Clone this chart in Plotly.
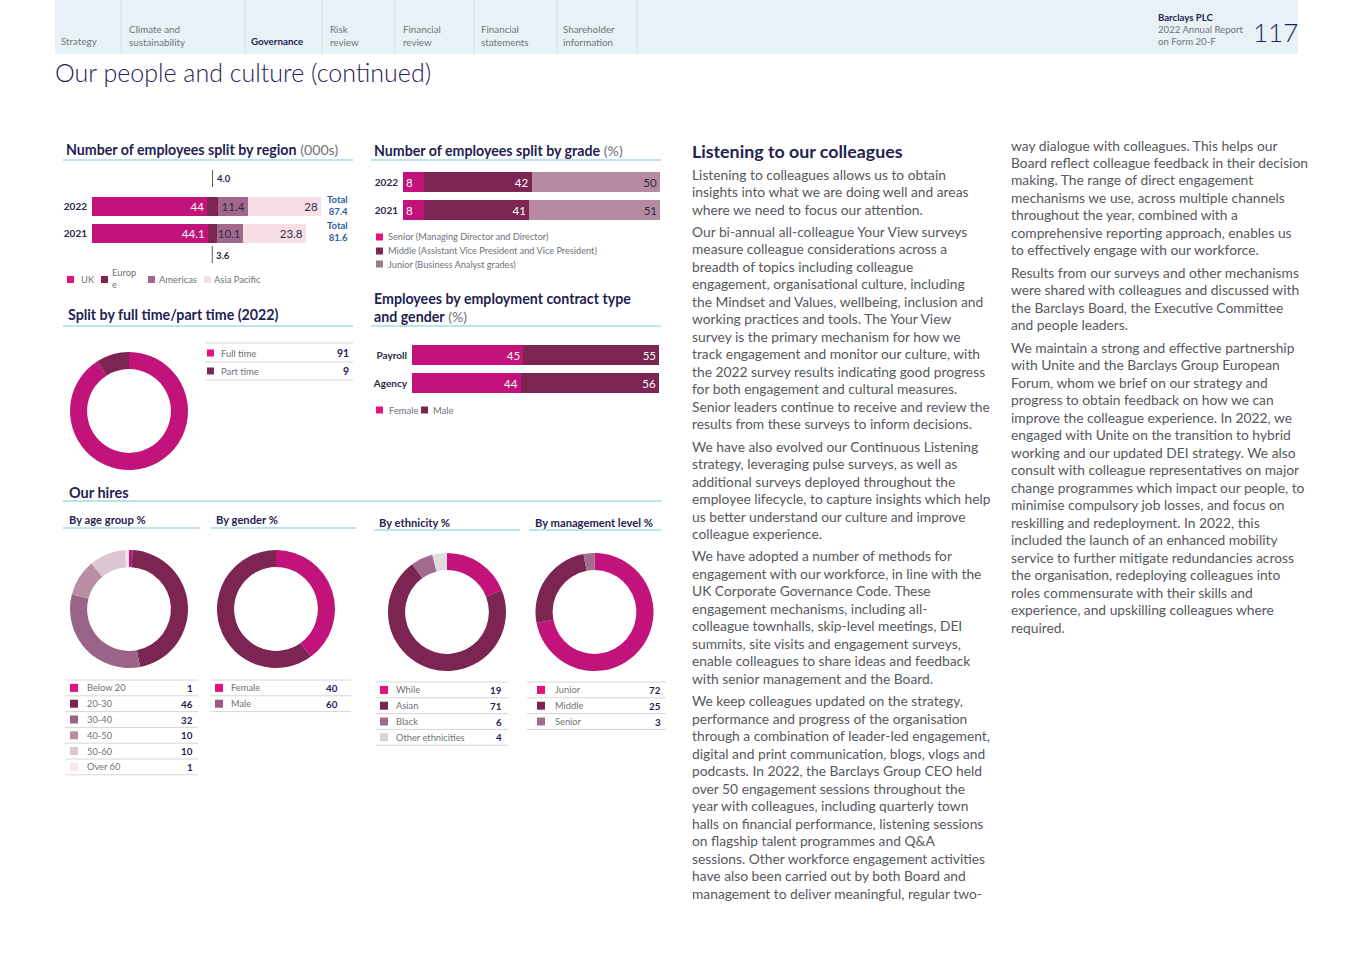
import plotly.graph_objects as go

# full page size; body margin is removed via post_script so the figure sits at (0, 0)
W, H = 1365, 968
OFF = 0

# ---------------- DATA ----------------
region_years = ["2022", "2021"]
region_uk = [44, 44.1]
region_europe = [4.0, 3.6]
region_americas = [11.4, 10.1]
region_apac = [28, 23.8]
region_totals = [87.4, 81.6]

grade_years = ["2022", "2021"]
grade_senior = [8, 8]
grade_middle = [42, 41]
grade_junior = [50, 51]

contract_types = ["Payroll", "Agency"]
contract_female = [45, 44]
contract_male = [55, 56]

ft_labels = ["Full time", "Part time"]
ft_values = [91, 9]

age_labels = ["Below 20", "20-30", "30-40", "40-50", "50-60", "Over 60"]
age_values = [1, 46, 32, 10, 10, 1]

gender_labels = ["Female", "Male"]
gender_values = [40, 60]

eth_labels = ["While", "Asian", "Black", "Other ethnicities"]
eth_values = [19, 71, 6, 4]

mgmt_labels = ["Junior", "Middle", "Senior"]
mgmt_values = [72, 25, 3]

nav_items = ["Strategy", "Climate and<br>sustainability", "<b>Governance</b>", "Risk<br>review",
             "Financial<br>review", "Financial<br>statements", "Shareholder<br>information"]

col1_paras = [
    ["Listening to colleagues allows us to obtain",
     "insights into what we are doing well and areas",
     "where we need to focus our attention."],
    ["Our bi-annual all-colleague Your View surveys",
     "measure colleague considerations across a",
     "breadth of topics including colleague",
     "engagement, organisational culture, including",
     "the Mindset and Values, wellbeing, inclusion and",
     "working practices and tools. The Your View",
     "survey is the primary mechanism for how we",
     "track engagement and monitor our culture, with",
     "the 2022 survey results indicating good progress",
     "for both engagement and cultural measures.",
     "Senior leaders continue to receive and review the",
     "results from these surveys to inform decisions."],
    ["We have also evolved our Continuous Listening",
     "strategy, leveraging pulse surveys, as well as",
     "additional surveys deployed throughout the",
     "employee lifecycle, to capture insights which help",
     "us better understand our culture and improve",
     "colleague experience."],
    ["We have adopted a number of methods for",
     "engagement with our workforce, in line with the",
     "UK Corporate Governance Code. These",
     "engagement mechanisms, including all-",
     "colleague townhalls, skip-level meetings, DEI",
     "summits, site visits and engagement surveys,",
     "enable colleagues to share ideas and feedback",
     "with senior management and the Board."],
    ["We keep colleagues updated on the strategy,",
     "performance and progress of the organisation",
     "through a combination of leader-led engagement,",
     "digital and print communication, blogs, vlogs and",
     "podcasts. In 2022, the Barclays Group CEO held",
     "over 50 engagement sessions throughout the",
     "year with colleagues, including quarterly town",
     "halls on financial performance, listening sessions",
     "on flagship talent programmes and Q&A",
     "sessions. Other workforce engagement activities",
     "have also been carried out by both Board and",
     "management to deliver meaningful, regular two-"],
]
col2_paras = [
    ["way dialogue with colleagues. This helps our",
     "Board reflect colleague feedback in their decision",
     "making. The range of direct engagement",
     "mechanisms we use, across multiple channels",
     "throughout the year, combined with a",
     "comprehensive reporting approach, enables us",
     "to effectively engage with our workforce."],
    ["Results from our surveys and other mechanisms",
     "were shared with colleagues and discussed with",
     "the Barclays Board, the Executive Committee",
     "and people leaders."],
    ["We maintain a strong and effective partnership",
     "with Unite and the Barclays Group European",
     "Forum, whom we brief on our strategy and",
     "progress to obtain feedback on how we can",
     "improve the colleague experience. In 2022, we",
     "engaged with Unite on the transition to hybrid",
     "working and our updated DEI strategy. We also",
     "consult with colleague representatives on major",
     "change programmes which impact our people, to",
     "minimise compulsory job losses, and focus on",
     "reskilling and redeployment. In 2022, this",
     "included the launch of an enhanced mobility",
     "service to further mitigate redundancies across",
     "the organisation, redeploying colleagues into",
     "roles commensurate with their skills and",
     "experience, and upskilling colleagues where",
     "required."],
]

# ---------------- STYLE ----------------
FONT = "Lato"
NAVY = "#1f2352"
GREY = "#57585c"
LGREY = "#6f7278"
BLUE = "#2d5f9c"
RULE = "#7cc5dd"
TLINE = "#d6d6d6"
MAG = "#c1137a"
MAG_L = "#e4127f"
DARK = "#7c2452"
MAUVE = "#a2678b"
JUNIOR = "#b68ba2"
APAC = "#f8dfe6"
age_colors = [MAG, DARK, "#9a6488", "#b98ea5", "#dcc6d2", "#f9e6ec"]
age_sq = [MAG_L, DARK, "#9a6488", "#b98ea5", "#dcc6d2", "#f9e6ec"]
gender_colors = [MAG, DARK]
gender_sq = [MAG_L, "#9c5a80"]
eth_colors = [MAG, DARK, "#a26a8c", "#dddddd"]
eth_sq = [MAG_L, DARK, "#a26a8c", "#d6d6d6"]
mgmt_colors = [MAG, DARK, "#9f6c8c"]
mgmt_sq = [MAG_L, DARK, "#9f6c8c"]


def px(x):
    return (x - OFF) / W


def py(y):
    return 1 - (y - OFF) / H


annotations = []
shapes = []


def text(x, y, s, size=10, color=GREY, weight="normal", xanchor="left", yanchor="middle",
         align="left", family=FONT):
    annotations.append(dict(x=px(x), y=py(y), xref="paper", yref="paper", text=s, showarrow=False,
                            xanchor=xanchor, yanchor=yanchor, align=align, borderpad=0,
                            font=dict(family=family, size=size, color=color, weight=weight)))


def rect(x0, y0, x1, y1, color, layer="below"):
    shapes.append(dict(type="rect", xref="paper", yref="paper", x0=px(x0), x1=px(x1),
                       y0=py(y1), y1=py(y0), fillcolor=color, line=dict(width=0), layer=layer))


def hline(x0, x1, y, color, width=1):
    shapes.append(dict(type="line", xref="paper", yref="paper", x0=px(x0), x1=px(x1),
                       y0=py(y), y1=py(y), line=dict(color=color, width=width)))


def vline(x, y0, y1, color, width=1):
    shapes.append(dict(type="line", xref="paper", yref="paper", x0=px(x), x1=px(x),
                       y0=py(y0), y1=py(y1), line=dict(color=color, width=width)))


fig = go.Figure()

# ---------------- HEADER ----------------
rect(55, 0, 1298, 54, "#e8f2f6")
for sx in [121, 245, 322, 395, 474, 557, 637]:
    vline(sx, 0, 54, "#d0dfe6")
nav_x = [60, 128, 250, 329, 402, 480, 562]
for nx, item in zip(nav_x, nav_items):
    if "<br>" in item:
        text(nx, 35, item, 9.8, LGREY)
    else:
        text(nx, 41, item, 9.8, NAVY if "<b>" in item else LGREY)
text(1157, 17, "<b>Barclays PLC</b>", 9.6, NAVY)
text(1157, 35, "2022 Annual Report<br>on Form 20-F", 9.6, LGREY)
text(1252, 32, "117", 26, NAVY, weight=300)
text(54, 72, "Our people and culture (continued)", 25, NAVY, weight=300)

# ---------------- REGION CHART ----------------
text(65, 149, "<b>Number of employees split by region</b> <span style='color:#6f7278'>(000s)</span>", 14.2, NAVY)
hline(63, 353, 160, RULE)

for vals, col, tcol, name in [(region_uk, MAG, "white", "UK"), (region_europe, DARK, "white", "Europe"),
                              (region_americas, MAUVE, "#2b2b45", "Americas"),
                              (region_apac, APAC, "#2b2b45", "Asia Pacific")]:
    fig.add_trace(go.Bar(
        y=region_years, x=vals, orientation="h", xaxis="x", yaxis="y", name=name,
        marker=dict(color=col, line=dict(width=0)), width=0.7,
        text=["" if name == "Europe" else f"{v:g}" for v in vals],
        textposition="inside", insidetextanchor="end", constraintext="none", textangle=0,
        textfont=dict(family=FONT, size=11.5, color=tcol), hoverinfo="skip"))

for i, (ylab, yl0, yl1) in enumerate([(178, 170, 187), (255, 246, 263)]):
    xm = region_uk[i] + region_europe[i] / 2
    annotations.append(dict(x=xm, y=py(ylab), xref="x", yref="paper", text=f"<b>{region_europe[i]:.1f}</b>",
                            showarrow=False, xanchor="left", yanchor="middle", xshift=3, borderpad=0,
                            font=dict(family=FONT, size=9.5, color="#2b2b45")))
    shapes.append(dict(type="line", xref="x", yref="paper", x0=xm, x1=xm, y0=py(yl1), y1=py(yl0),
                       line=dict(color="#555", width=1)))
for yc, tot in zip([205, 231], region_totals):
    text(349, yc, f"<b>Total<br>{tot}</b>", 9.5, BLUE, xanchor="right", align="right")

# legend
rect(67, 276, 74, 283, MAG_L)
text(80, 280, "UK", 9.4, LGREY)
rect(101, 276, 108, 283, DARK)
text(111, 279, "Europ<br>e", 9.4, LGREY)
rect(148, 276, 155, 283, MAUVE)
text(158, 280, "Americas", 9.4, LGREY)
rect(204, 276, 211, 283, APAC)
text(213, 280, "Asia Pacific", 9.4, LGREY)

# ---------------- GRADE CHART ----------------
text(373, 151, "<b>Number of employees split by grade</b> <span style='color:#6f7278'>(%)</span>", 14.2, NAVY)
hline(371, 661, 160, RULE)
for vals, col, tcol, anchor, name in [(grade_senior, MAG, "white", "start", "Senior"),
                                      (grade_middle, DARK, "white", "end", "Middle"),
                                      (grade_junior, JUNIOR, "#2b2b45", "end", "Junior")]:
    fig.add_trace(go.Bar(
        y=grade_years, x=vals, orientation="h", xaxis="x2", yaxis="y2", name=name,
        marker=dict(color=col, line=dict(width=0)), width=0.68,
        text=[f"{v:g}" for v in vals], textposition="inside", insidetextanchor=anchor, textangle=0,
        constraintext="none", textfont=dict(family=FONT, size=11.5, color=tcol), hoverinfo="skip"))
for yy, col, lab in [(237, MAG_L, "Senior (Managing Director and Director)"),
                     (251, DARK, "Middle (Assistant Vice President and Vice President)"),
                     (264, "#a0798f", "Junior (Business Analyst grades)")]:
    rect(376, yy - 3.5, 383, yy + 3.5, col)
    text(387, yy, lab, 9.2, LGREY)

# ---------------- FULL TIME / PART TIME ----------------
text(67, 314, "<b>Split by full time/part time (2022)</b>", 14.2, NAVY)
hline(63, 353, 326, RULE)
fig.add_trace(go.Pie(labels=ft_labels, values=ft_values, hole=0.71, sort=False, direction="clockwise",
                     rotation=0, marker=dict(colors=[MAG, DARK], line=dict(width=0)),
                     textinfo="none", hoverinfo="skip",
                     domain=dict(x=[px(129 - 59), px(129 + 59)], y=[py(411 + 59), py(411 - 59)])))
for yl in [343, 362, 380]:
    hline(205, 353, yl, TLINE)
for yy, col, lab, v in [(353, MAG_L, ft_labels[0], ft_values[0]), (371, DARK, ft_labels[1], ft_values[1])]:
    rect(207, yy - 3.5, 214, yy + 3.5, col)
    text(220, yy, lab, 9.4, LGREY)
    text(350, yy, f"<b>{v}</b>", 10.5, NAVY, xanchor="right")

# ---------------- CONTRACT CHART ----------------
text(373, 308, "<b>Employees by employment contract type<br>and gender</b> <span style='color:#6f7278'>(%)</span>",
     14.2, NAVY)
hline(371, 661, 326, RULE)
for vals, col, name in [(contract_female, MAG, "Female"), (contract_male, DARK, "Male")]:
    fig.add_trace(go.Bar(
        y=contract_types, x=vals, orientation="h", xaxis="x3", yaxis="y3", name=name,
        marker=dict(color=col, line=dict(width=0)), width=0.71,
        text=[f"{v:g}" for v in vals], textposition="inside", insidetextanchor="end", textangle=0,
        constraintext="none", textfont=dict(family=FONT, size=11.5, color="white"), hoverinfo="skip"))
rect(376, 406.5, 383, 413.5, MAG_L)
text(388, 410, "Female", 9.4, LGREY)
rect(421, 406.5, 428, 413.5, DARK)
text(432, 410, "Male", 9.4, LGREY)

# ---------------- OUR HIRES ----------------
text(68, 492, "<b>Our hires</b>", 14.5, NAVY)
hline(63, 662, 501, RULE)
subs = [(68, 519, "By age group %", 63, 200, 528), (215, 519, "By gender %", 211, 356, 528),
        (378, 522, "By ethnicity %", 374, 520, 530), (534, 522, "By management level %", 529, 661, 530)]
for sx, sy, lab, l0, l1, ly in subs:
    text(sx, sy, f"<b>{lab}</b>", 11.2, NAVY)
    hline(l0, l1, ly, RULE)

donuts = [
    (age_labels, age_values, age_colors, age_sq, 129, 609, 65, 198, 680, 70, 86, 194),
    (gender_labels, gender_values, gender_colors, gender_sq, 276, 609, 211, 351, 680, 215, 230, 339),
    (eth_labels, eth_values, eth_colors, eth_sq, 447, 612, 376, 508, 682, 380, 395, 503),
    (mgmt_labels, mgmt_values, mgmt_colors, mgmt_sq, 594.5, 612, 527, 666, 682, 537, 554, 662),
]
R = 59
PITCH = 15.8
for labels, values, cols, sq, cx, cy, t0, t1, ty, sqx, tx, vx in donuts:
    fig.add_trace(go.Pie(labels=labels, values=values, hole=0.71, sort=False, direction="clockwise",
                         rotation=0, marker=dict(colors=cols, line=dict(width=0)),
                         textinfo="none", hoverinfo="skip",
                         domain=dict(x=[px(cx - R), px(cx + R)], y=[py(cy + R), py(cy - R)])))
    for i in range(len(labels) + 1):
        hline(t0, t1, ty + i * PITCH, TLINE)
    for i, (lab, v, c) in enumerate(zip(labels, values, sq)):
        yy = ty + PITCH / 2 + i * PITCH
        rect(sqx, yy - 4, sqx + 8, yy + 4, c)
        text(tx, yy, lab, 9.3, LGREY)
        text(vx, yy, f"<b>{v}</b>", 9.8, NAVY, xanchor="right")

# ---------------- TEXT COLUMNS ----------------
text(691, 151, "<b>Listening to our colleagues</b>", 17.8, NAVY)
LS = 17.5
PG = 4.8
for x0, y0, paras in [(691, 174, col1_paras), (1010, 145, col2_paras)]:
    y = y0
    for para in paras:
        for ln in para:
            text(x0, y, ln, 13.8, GREY)
            y += LS
        y += PG

# ---------------- AXES ----------------
def xa(d0, d1, rng, anchor):
    return dict(domain=[px(d0), px(d1)], range=rng, visible=False, fixedrange=True, anchor=anchor)


def ya(d0, d1, cats, anchor, size):
    cats_bt = list(reversed(cats))
    return dict(domain=[py(d1), py(d0)], type="category", categoryorder="array", categoryarray=cats_bt,
                tickvals=cats_bt, ticktext=[f"<b>{c}</b>" for c in cats_bt], showgrid=False,
                zeroline=False, showline=False, ticks="", anchor=anchor, fixedrange=True,
                ticklabelstandoff=4,
                tickfont=dict(family=FONT, size=size, color="#2b2b45"))


fig.update_layout(
    width=W, height=H, margin=dict(l=0, r=0, t=0, b=0),
    paper_bgcolor="white", plot_bgcolor="rgba(0,0,0,0)", showlegend=False, barmode="stack",
    font=dict(family=FONT),
    xaxis=xa(92, 321, [0, 87.4], "y"), yaxis=ya(193, 247, region_years, "x", 10),
    xaxis2=xa(403, 660, [0, 100], "y2"), yaxis2=ya(168, 224, grade_years, "x2", 10),
    xaxis3=xa(412, 659, [0, 100], "y3"), yaxis3=ya(341, 397, contract_types, "x3", 10),
    annotations=annotations, shapes=shapes,
)

fig.write_html("out.html", config={"displayModeBar": False},
               post_script="document.body.style.margin='0px';")
